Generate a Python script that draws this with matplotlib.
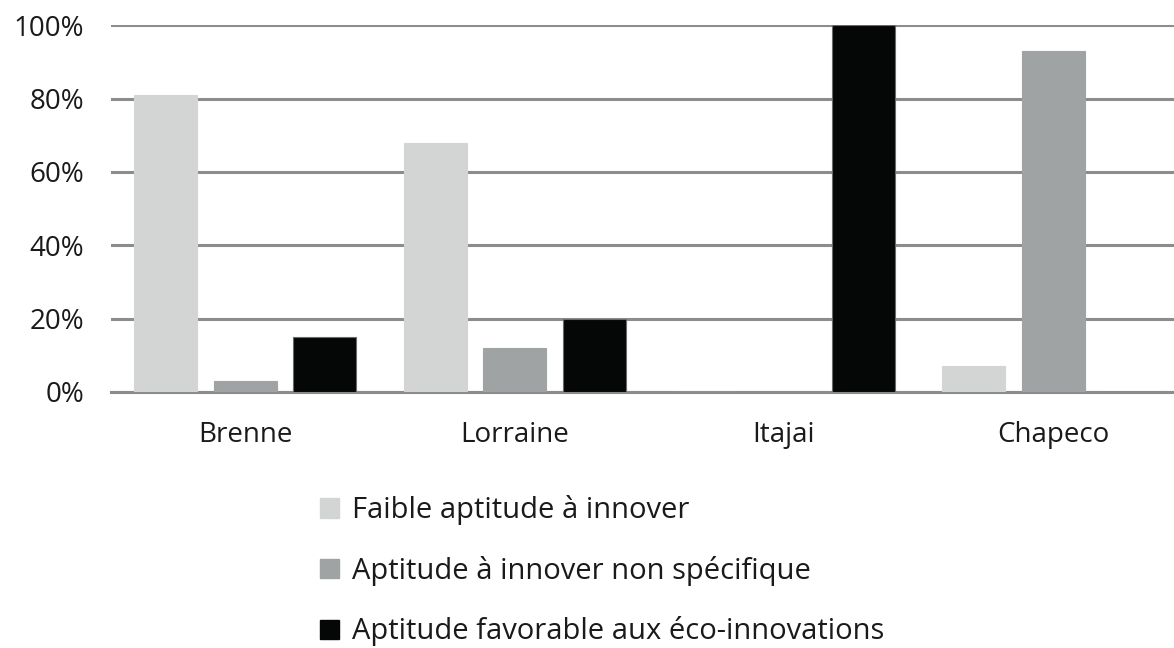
import numpy as np
import matplotlib
matplotlib.use("Agg")
import matplotlib.pyplot as plt
from matplotlib.patches import Patch

plt.rcParams['font.family'] = ['Open Sans', 'DejaVu Sans']

sites = ['Brenne', 'Lorraine', 'Itajai', 'Chapeco']
series_names = ['Faible aptitude à innover',
                'Aptitude à innover non spécifique',
                'Aptitude favorable aux éco-innovations']
faible = [81, 68, 0, 7]
non_specifique = [3, 12, 0, 93]
favorable = [15, 20, 100, 0]
colors = ['#d3d5d4', '#a0a3a4', '#050706']

fig = plt.figure(figsize=(11.74, 6.48), dpi=100)
ax = fig.add_axes([110.7 / 1174, 1 - 392 / 648, 1077 / 1174, 366.7 / 648])

x = np.arange(len(sites))
step = 0.2955
width = 0.234
for i, (vals, c) in enumerate(zip([faible, non_specifique, favorable], colors)):
    ax.bar(x + (i - 1) * step, vals, width, color=c,
           edgecolor='#6a6a6a' if i == 2 else c, linewidth=0.8, zorder=3)

ax.set_xlim(-0.5, len(sites) - 0.5)
ax.set_ylim(0, 100)
ax.set_yticks(range(0, 101, 20))
ax.set_yticklabels([f'{v}%' for v in range(0, 101, 20)])
ax.set_xticks(x)
ax.set_xticklabels(sites)
ax.yaxis.grid(True, color='#8c8c8c', linewidth=2.2, zorder=0)
ax.set_axisbelow(True)
for s in ['left', 'right', 'top']:
    ax.spines[s].set_visible(False)
ax.spines['bottom'].set_color('#8c8c8c')
ax.spines['bottom'].set_linewidth(2.2)
ax.tick_params(axis='both', length=0, labelsize=20, labelcolor='#1a1a1a')
ax.tick_params(axis='x', pad=21)
ax.tick_params(axis='y', pad=19)

handles = [Patch(facecolor=c, edgecolor=c) for c in colors]
fig.legend(handles, series_names, loc='upper left',
           bbox_to_anchor=(294 / 1174, 1 - 469 / 648), frameon=False,
           fontsize=21, handlelength=0.65, handleheight=0.65,
           handletextpad=0.45, labelspacing=1.05, labelcolor='#1a1a1a')

fig.savefig('out.png', dpi=100, facecolor='white')
